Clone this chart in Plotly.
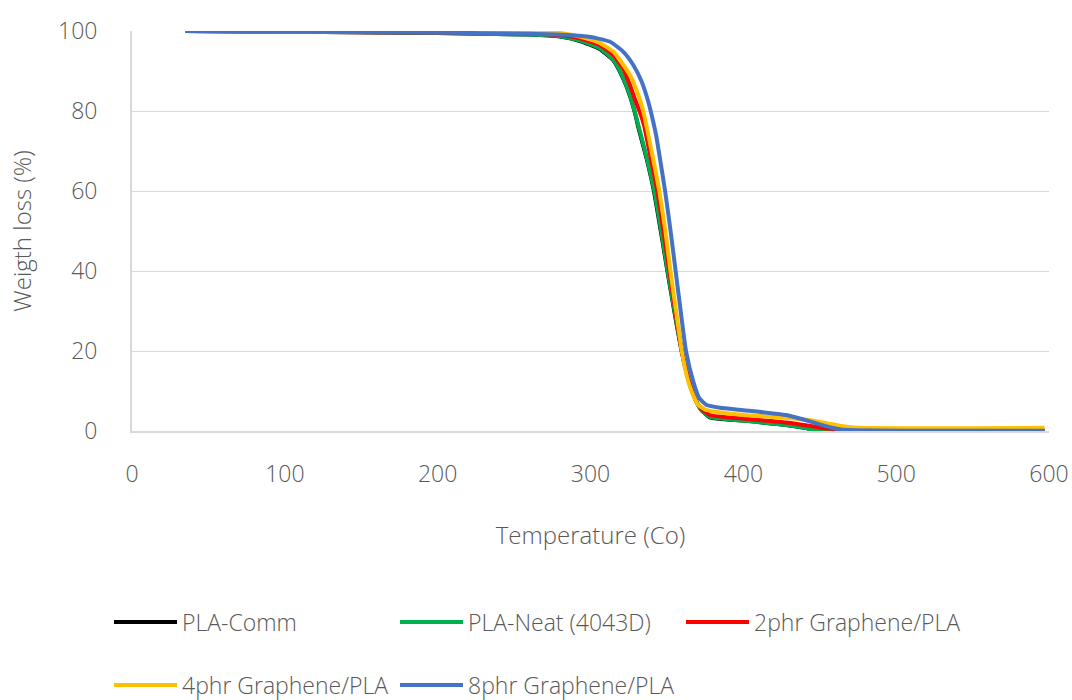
import plotly.graph_objects as go

# PLA-Comm
t_comm = [35, 100, 200, 260, 280, 293, 306, 315, 321.5, 325.8, 329, 332.2, 336.8, 341.5, 346, 350.3, 354.8, 359.6, 364, 368.5, 372, 378, 400, 428, 440, 448, 460, 597]
w_comm = [100, 99.8, 99.5, 99.1, 98.6, 97.5, 95.5, 92.6, 88, 83.8, 79.6, 74.6, 68, 60, 50, 40, 30, 20, 13, 8, 5.5, 3.4, 2.6, 1.5, 0.8, 0.2, 0, 0]
# PLA-Neat (4043D)
t_neat = [35, 100, 200, 260, 280, 293, 306, 315, 321.5, 325.8, 329, 332.4, 337, 341.8, 346.3, 350.5, 355, 359.8, 364, 368.5, 372, 378, 400, 428, 440, 448, 460, 597]
w_neat = [100, 99.8, 99.5, 99.1, 98.7, 97.6, 95.7, 92.75, 88.2, 84, 79.8, 74.8, 68, 60, 50, 40, 30, 20, 13, 8, 5.5, 3.5, 2.6, 1.5, 0.8, 0.2, 0, 0]
# 2phr Graphene/PLA
t_2phr = [35, 100, 200, 260, 280, 293, 306, 315, 321.5, 325.8, 329, 333, 335, 339.5, 343.7, 347.7, 351.6, 355.5, 359.8, 364, 368.5, 372, 378, 400, 428, 445, 455, 470, 597]
w_2phr = [100, 99.8, 99.6, 99.3, 99.0, 98.2, 96.5, 94, 90.5, 86.5, 83, 79, 76.5, 68, 60, 50, 40, 30, 20, 13, 8, 5.8, 4.0, 3.1, 2.1, 1.2, 0.6, 0.4, 0.4]
# 4phr Graphene/PLA
t_4phr = [35, 100, 200, 260, 280, 293, 306, 315, 325.8, 331.3, 334.6, 337.4, 341, 345, 349, 352.3, 356, 359.7, 364, 368, 370.5, 376, 384, 400, 428, 445, 455, 465, 475, 597]
w_4phr = [100, 99.9, 99.9, 99.8, 99.5, 98.6, 97, 94.8, 89, 84, 79.8, 74.8, 68, 60, 50, 40, 30, 20, 12.3, 8.2, 6.5, 5.2, 4.7, 4.0, 3.3, 2.6, 1.9, 1.2, 0.8, 0.8]
# 8phr Graphene/PLA
t_8phr = [35, 100, 200, 260, 285, 300, 312.8, 321.5, 328, 333.5, 337.8, 340, 342.9, 345.5, 348.8, 352.4, 355.7, 359, 362.5, 367.3, 371.2, 376, 384.7, 400, 428, 440, 448, 458, 465, 597]
w_8phr = [100, 99.9, 99.6, 99.3, 99.0, 98.5, 97.3, 94.8, 91.5, 87.3, 82.3, 79, 74, 68, 60, 50, 40, 30, 20, 12.3, 8.2, 6.5, 5.8, 5.2, 4.0, 2.8, 1.9, 0.8, 0.3, 0.05]

series = [
    ("PLA-Comm", t_comm, w_comm, "#000000", "legend"),
    ("PLA-Neat (4043D)", t_neat, w_neat, "#00b050", "legend"),
    ("2phr Graphene/PLA", t_2phr, w_2phr, "#ff0000", "legend"),
    ("4phr Graphene/PLA", t_4phr, w_4phr, "#ffc000", "legend2"),
    ("8phr Graphene/PLA", t_8phr, w_8phr, "#4472c4", "legend2"),
]

FONT = "Open Sans"
GRAY = "#595959"

fig = go.Figure()
for name, t, w, c, lg in series:
    fig.add_trace(go.Scatter(x=t, y=w, name=name, mode="lines",
                             line=dict(color=c, width=4, shape="spline", smoothing=0.5),
                             legend=lg))

legend_common = dict(orientation="h", xref="container", yref="container",
                     xanchor="left", yanchor="middle",
                     entrywidth=208, entrywidthmode="pixels", itemwidth=63,
                     font=dict(family=FONT, size=23, color=GRAY, weight=300),
                     bgcolor="rgba(0,0,0,0)")

fig.update_layout(
    width=1072, height=700,
    margin=dict(l=132, r=23, t=31, b=269, autoexpand=False),
    plot_bgcolor="white", paper_bgcolor="white",
    font=dict(family=FONT, size=23, color=GRAY, weight=300),
    xaxis=dict(range=[0, 600], tickvals=[0, 100, 200, 300, 400, 500, 600],
               showgrid=False, showline=True, linecolor="#d9d9d9", linewidth=2,
               ticks="", ticklabelstandoff=21, zeroline=False, automargin=False,
               title=dict(text="Temperature (Co)", standoff=40,
                          font=dict(family=FONT, size=24, color=GRAY, weight=300)),
               tickfont=dict(family=FONT, size=23, color=GRAY, weight=300)),
    yaxis=dict(range=[0, 100], tickvals=[0, 20, 40, 60, 80, 100],
               showgrid=True, gridcolor="#d9d9d9", gridwidth=1,
               showline=True, linecolor="#d9d9d9", linewidth=2,
               ticks="", ticklabelstandoff=28, zeroline=False, automargin=False,
               title=dict(text="Weigth loss (%)", standoff=20,
                          font=dict(family=FONT, size=24, color=GRAY, weight=300)),
               tickfont=dict(family=FONT, size=23, color=GRAY, weight=300)),
    legend=dict(x=109 / 1072, y=1 - 622 / 700, **legend_common),
    legend2=dict(x=109 / 1072, y=1 - 685 / 700, **legend_common),
)

fig.write_html("out.html")
